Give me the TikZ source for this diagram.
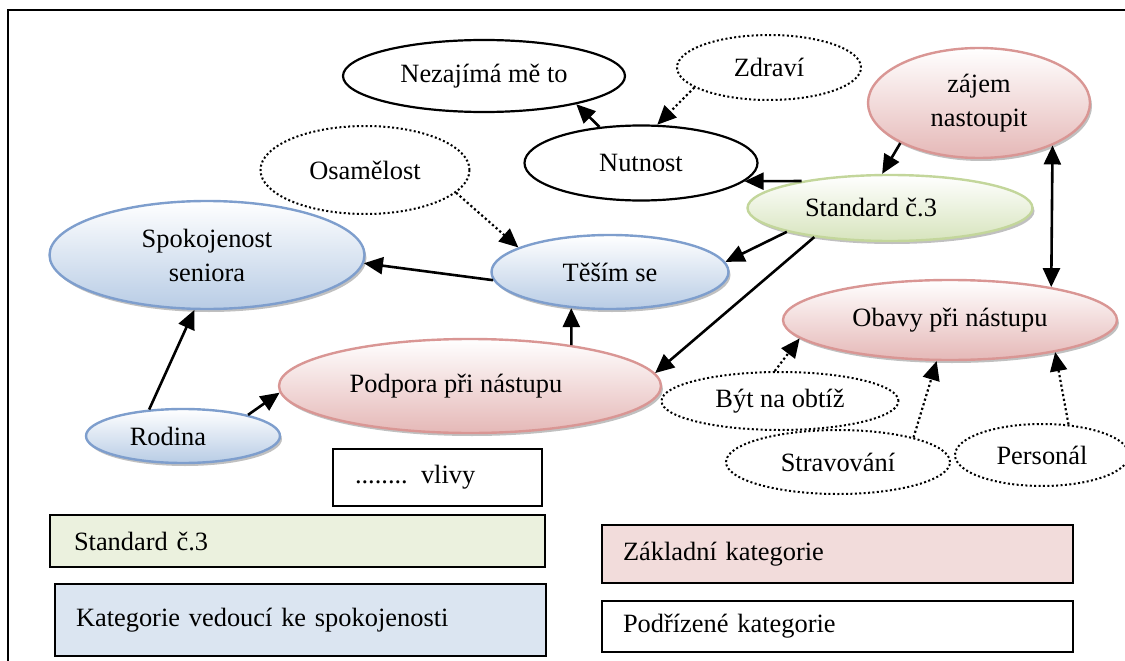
\documentclass[tikz,border=0pt]{standalone}
\usepackage{fontspec}
\setmainfont{Liberation Serif}
\usetikzlibrary{arrows.meta, shapes.geometric, shadows}
\definecolor{blueline}{RGB}{126,158,205}
\definecolor{bluebot}{RGB}{184,204,229}
\definecolor{pinkline}{RGB}{217,150,148}
\definecolor{pinkbot}{RGB}{229,184,183}
\definecolor{greenline}{RGB}{195,214,155}
\definecolor{greenbot}{RGB}{215,228,189}
\definecolor{greenkey}{RGB}{235,241,222}
\definecolor{bluekey}{RGB}{219,229,241}
\definecolor{pinkkey}{RGB}{242,220,219}
\tikzset{every node/.style = {font = \fontsize{26.4}{34}\selectfont, inner sep = 0pt}}
\tikzset{cat/.style = {shape = ellipse, line width = 2.4pt, drop shadow = {shadow xshift = 2pt, shadow yshift = -3pt, fill = black!55, opacity = 0.45}}}
\tikzset{blueell/.style = {cat, draw = blueline, top color = white, bottom color = bluebot}}
\tikzset{pinkell/.style = {cat, draw = pinkline, top color = white, bottom color = pinkbot}}
\tikzset{greenell/.style = {cat, draw = greenline, top color = white, bottom color = greenbot}}
\tikzset{plainell/.style = {shape = ellipse, draw, line width = 2.2pt, align = center}}
\tikzset{dotell/.style = {shape = ellipse, draw, line width = 2pt, dash pattern = on 2pt off 2.4pt}}
\tikzset{edge/.style = {->, > = {Triangle[length = 19pt, width = 17pt]}, line width = 2.6pt}}
\tikzset{dotedge/.style = {edge, line width = 2.2pt, dash pattern = on 2.2pt off 2.6pt}}
\tikzset{keybox/.style = {shape = rectangle, draw, line width = 2pt, align = left}}

\begin{document}
\begin{tikzpicture}[x = 1pt, y = -1pt]
				\useasboundingbox (0, 0) rectangle (1125, 661);
				\draw[line width = 2.4pt] (1125, 10) -- (8, 10) -- (8, 661);

				% podrizene kategorie
				\node[dotell, minimum width = 184pt, minimum height = 65pt] (zdravi) at (769, 67.5) {Zdraví};
				\node[dotell, minimum width = 209pt, minimum height = 88pt] (osam) at (365, 170) {Osamělost};
				\node[dotell, minimum width = 237pt, minimum height = 58pt] (byt) at (780, 401) {Být na obtíž};
				\node[dotell, minimum width = 224pt, minimum height = 64pt] (strav) at (838, 462) {Stravování};
				\node[dotell, minimum width = 174pt, minimum height = 62pt] (personal) at (1042, 455) {Personál};
				\node[plainell, minimum width = 282pt, minimum height = 72pt] (nezaj) at (484, 76) {Nezajímá mě to};
				\node[plainell, minimum width = 233pt, minimum height = 75pt] (nutnost) at (641, 163) {Nutnost};

				% zakladni kategorie
				\node[pinkell, minimum width = 222pt, minimum height = 110pt, align = center] (zajem) at (979, 103) {zájem\\nastoupit};
				\node[pinkell, minimum width = 334pt, minimum height = 80pt] (obavy) at (950, 320) {Obavy při nástupu};
				\node[pinkell, minimum width = 382pt, minimum height = 94pt] (podpora) at (470, 386) {\hspace*{-28pt}Podpora při nástupu};
				\node[greenell, minimum width = 285pt, minimum height = 66pt] (standard) at (890, 208) {\hspace*{-38pt}Standard č.3};
				\node[blueell, minimum width = 315pt, minimum height = 108pt, align = center] (spok) at (207, 255) {Spokojenost\\seniora};
				\node[blueell, minimum width = 237pt, minimum height = 74pt] (tesim) at (610, 272) {Těším se};
				\node[blueell, minimum width = 194pt, minimum height = 54pt] (rodina) at (183, 436) {\hspace*{-30pt}Rodina};

				\draw[edge] (tesim.184) to (spok.357);
				\draw[edge] (rodina.142) to (spok.257);
				\draw[edge] (rodina.18) to (podpora.182);
				\draw[edge] (podpora.22) to (tesim.223);
				\draw[edge] (standard.193) to (tesim.5);
				\draw[edge] (standard.201) to (podpora.4);
				\draw[edge] (standard.163) to (nutnost.-10);
				\draw[edge] (nutnost.139) to (nezaj.-17);
				\draw[edge] (zajem.207) to (standard.103);
				\draw[edge, <->] (zajem.-30) to (obavy.18);
				\draw[dotedge] (zdravi.195) to (nutnost.67);
				\draw[dotedge] (osam.-14) to (tesim.165);
				\draw[dotedge] (byt.100) to (obavy.187);
				\draw[dotedge] (strav.18) to (obavy.252);
				\draw[dotedge] (personal.49) to (obavy.-17);

				% legenda
				\node[keybox, minimum height = 57pt, inner xsep = 22pt, text width = 165pt] (kvlivy) at (437.5, 477.5) {........ vlivy};
				\node[keybox, fill = greenkey, minimum height = 52pt, inner xsep = 24pt, text width = 447pt] (kstd) at (297.5, 541) {Standard č.3};
				\node[keybox, fill = bluekey, minimum height = 72pt, inner xsep = 21pt, text width = 449pt] (kblue) at (300.5, 620) {Kategorie vedoucí ke spokojenosti};
				\node[keybox, fill = pinkkey, minimum height = 58pt, inner xsep = 21pt, text width = 429pt] (kpink) at (837.5, 554) {Základní kategorie};
				\node[keybox, minimum height = 51pt, inner xsep = 21pt, text width = 429pt] (kwhite) at (837.5, 626.5) {Podřízené kategorie};
			\end{tikzpicture}
\end{document}
